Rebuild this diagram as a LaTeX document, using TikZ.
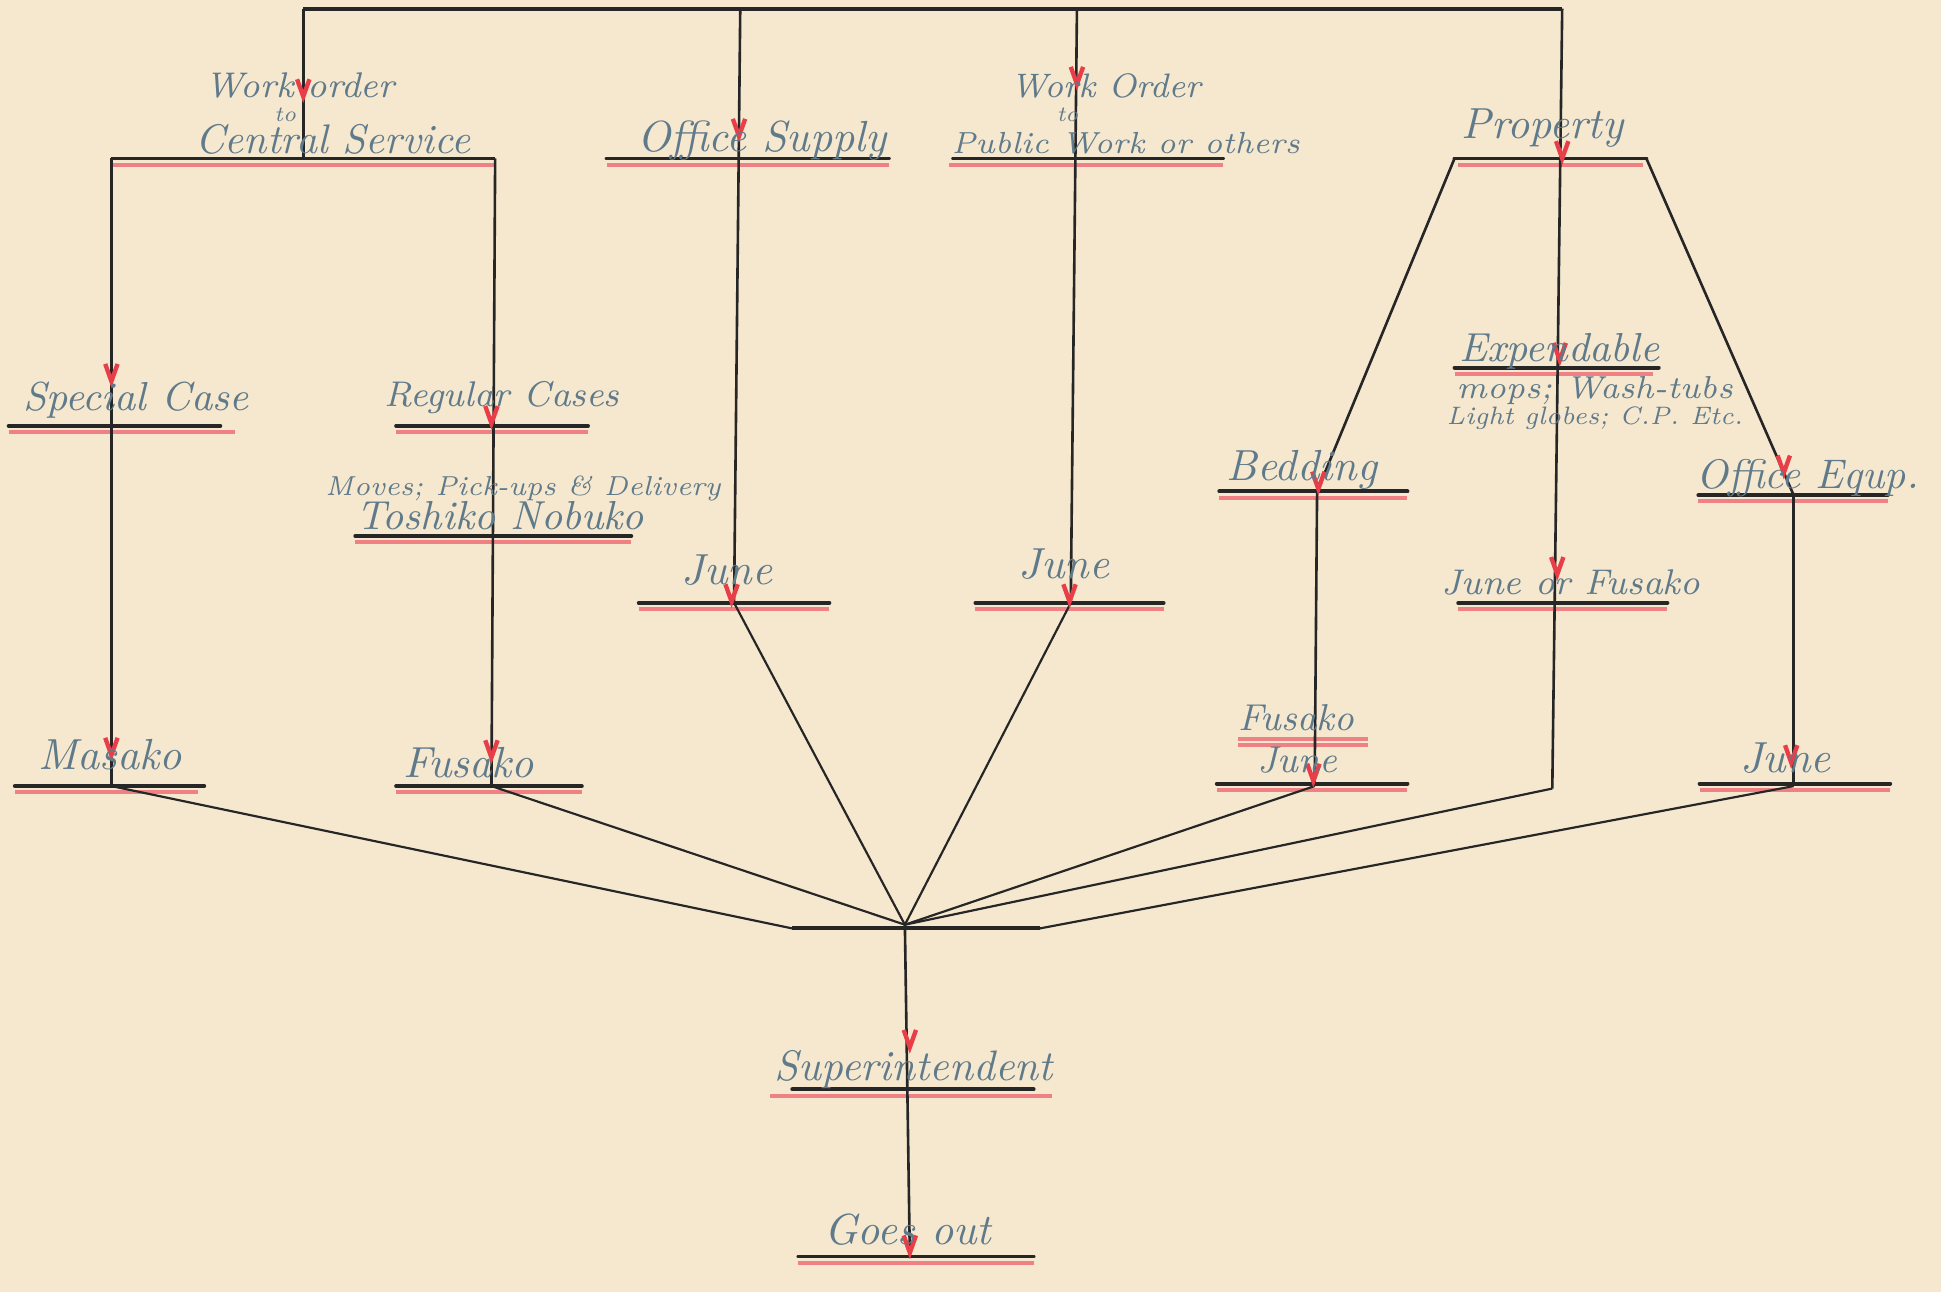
\documentclass[tikz,border=0pt]{standalone}
\usepackage{fontspec}
\definecolor{paper}{RGB}{246,232,207}
\definecolor{ink}{RGB}{38,38,38}
\definecolor{pencil}{RGB}{95,122,138}
\definecolor{redmark}{RGB}{232,62,72}
\definecolor{pinkline}{RGB}{238,112,120}
\newcommand\vmarkat[2]{\draw[vmark] (#1-5,#2-14) -- (#1,#2) -- (#1+5,#2-14);}
\newcommand\ulbar[5]{\draw[barl] (#1,#3) -- (#2,#3); \draw[redl] (#4,#3+5) -- (#5,#3+5);}
\newcommand\hwsize[1]{\fontsize{#1}{#1}\selectfont\itshape}
\begin{document}
\begin{tikzpicture}[x=0.01cm, y=-0.01cm,
  wire/.style={draw=ink, line width=0.6pt},
  slant/.style={draw=ink, line width=0.5pt},
  toprule/.style={draw=ink, line width=0.9pt},
  barl/.style={draw=ink, line width=0.9pt, line cap=round},
  redl/.style={draw=pinkline, line width=0.9pt, opacity=0.85},
  vmark/.style={draw=redmark, line width=1pt, line join=miter},
  hw/.style={text=pencil, font=\hwsize{10}, inner sep=0pt, anchor=base west}]
\fill[paper] (0,0) rectangle (1568,1044);
\useasboundingbox (0,0) rectangle (1568,1044);

% ---------- junction coordinates ----------
\coordinate (T1) at (245,7);   \coordinate (T4) at (1262,7);
\coordinate (T2) at (598,7);   \coordinate (T3) at (870,7);
\coordinate (CS) at (245,128); \coordinate (csL) at (90,128); \coordinate (csR) at (400,128);
\coordinate (MA) at (90,635);  \coordinate (FU) at (397,635);
\coordinate (JL) at (593,487); \coordinate (JM) at (865,487);
\coordinate (prL) at (1175,128); \coordinate (prR) at (1330,128);
\coordinate (BE) at (1064,397); \coordinate (OE) at (1449,400);
\coordinate (FJ) at (1062,635); \coordinate (JR) at (1449,635);
\coordinate (CR) at (1254,637);
\coordinate (hub) at (731,747); \coordinate (hubL) at (640,750); \coordinate (hubR) at (840,750);
\coordinate (GO) at (735,1015);

% ---------- bars with red underlines ----------
\ulbar{490}{718}{128}{490}{718}
\ulbar{770}{988}{128}{767}{988}
\ulbar{1175}{1330}{128}{1178}{1327}
\draw[redl] (90,133) -- (400,133);
\ulbar{7}{178}{344}{7}{190}
\ulbar{320}{475}{344}{320}{475}
\ulbar{287}{510}{433}{287}{510}
\ulbar{12}{165}{635}{12}{160}
\ulbar{320}{470}{635}{320}{470}
\ulbar{516}{670}{487}{516}{670}
\ulbar{788}{940}{487}{788}{940}
\ulbar{1175}{1340}{297}{1175}{1335}
\ulbar{985}{1137}{397}{985}{1137}
\ulbar{1372}{1525}{400}{1372}{1525}
\ulbar{1178}{1347}{487}{1178}{1347}
\ulbar{983}{1137}{633}{983}{1137}
\draw[redl] (1000,597) -- (1105,597);
\draw[redl] (1000,602) -- (1105,602);
\ulbar{1373}{1527}{633}{1373}{1527}
\ulbar{640}{835}{880}{622}{850}
\ulbar{645}{835}{1015}{645}{835}

% ---------- connectors ----------
\draw[toprule] (T1) -- (T4);
\draw[wire] (T1) -- (CS);
\draw[toprule] (csL) -- (csR);
\draw[wire] (csL) -- (MA);
\draw[wire] (csR) -- (FU);
\draw[wire] (T2) -- (JL);
\draw[wire] (T3) -- (JM);
\draw[wire] (T4) -- (CR);
\draw[toprule] (prL) -- (prR);
\draw[wire] (prL) -- (BE);
\draw[wire] (prR) -- (OE);
\draw[wire] (BE) -- (FJ);
\draw[wire] (OE) -- (JR);
\draw[slant] (MA) -- (hubL);
\draw[slant] (FU) -- (hub);
\draw[slant] (JL) -- (hub);
\draw[slant] (JM) -- (hub);
\draw[slant] (FJ) -- (hub);
\draw[slant] (CR) -- (hub);
\draw[slant] (JR) -- (hubR);
\draw[toprule] (hubL) -- (hubR);
\draw[wire] (hub) -- (GO);

% ---------- red check marks ----------
\vmarkat{245}{78}
\vmarkat{597}{110}
\vmarkat{870}{68}
\vmarkat{1262}{128}
\vmarkat{90}{308}
\vmarkat{397}{342}
\vmarkat{90}{610}
\vmarkat{397}{612}
\vmarkat{591}{486}
\vmarkat{864}{486}
\vmarkat{1260}{291}
\vmarkat{1258}{464}
\vmarkat{1065}{395}
\vmarkat{1441}{382}
\vmarkat{1061}{631}
\vmarkat{1447}{616}
\vmarkat{735}{846}
\vmarkat{735}{1012}

% ---------- labels ----------
\node[hw, font=\hwsize{8.2}] (wo1) at (165,79) {Work order};
\node[hw, font=\hwsize{5}]   (to1) at (221,98) {to};
\node[hw, font=\hwsize{9.5}] (cs) at (157,124) {Central Service};
\node[hw]                    (os) at (514,122) {Office Supply};
\node[hw, font=\hwsize{7.8}] (wo2) at (816,79) {Work Order};
\node[hw, font=\hwsize{5}]   (to2) at (853,98) {to};
\node[hw, font=\hwsize{7}]   (pw) at (768,124) {Public Work or others};
\node[hw]                    (pr) at (1180,112) {Property};
\node[hw, font=\hwsize{9.3}] (sc) at (18,332) {Special Case};
\node[hw, font=\hwsize{8.2}] (rc) at (310,328) {Regular Cases};
\node[hw, font=\hwsize{6.3}] (mv) at (262,400) {Moves; Pick-ups \& Delivery};
\node[hw, font=\hwsize{9.3}] (tn) at (287,428) {Toshiko Nobuko};
\node[hw]                    (jl) at (550,472) {June};
\node[hw]                    (jm) at (822,467) {June};
\node[hw, font=\hwsize{9.3}] (ex) at (1178,292) {Expendable};
\node[hw, font=\hwsize{7.3}] (n1) at (1176,322) {mops; Wash-tubs};
\node[hw, font=\hwsize{5.8}] (n2) at (1168,343) {Light globes; C.P. Etc.};
\node[hw]                    (be) at (990,388) {Bedding};
\node[hw, font=\hwsize{9.5}] (oe) at (1370,395) {Office Equp.};
\node[hw, font=\hwsize{8.2}] (jf) at (1164,480) {June or Fusako};
\node[hw]                    (ma) at (30,622) {Masako};
\node[hw]                    (fu) at (325,628) {Fusako};
\node[hw, font=\hwsize{8.6}] (fj1) at (1000,590) {Fusako};
\node[hw, font=\hwsize{8.6}] (fj2) at (1015,624) {June};
\node[hw]                    (jr) at (1405,624) {June};
\node[hw, font=\hwsize{9.8}] (su) at (625,873) {Superintendent};
\node[hw]                    (go) at (665,1005) {Goes out};
\end{tikzpicture}
\end{document}
